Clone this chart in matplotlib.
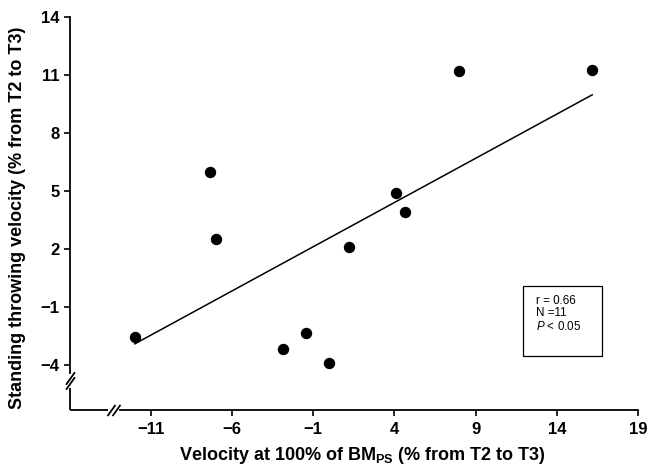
import numpy as np
import matplotlib
matplotlib.use("Agg")
import matplotlib.pyplot as plt
from matplotlib.patches import Rectangle

plt.rcParams["font.family"] = ["Liberation Sans", "DejaVu Sans"]
plt.rcParams["mathtext.fontset"] = "custom"
plt.rcParams["mathtext.rm"] = "Liberation Sans"
plt.rcParams["mathtext.it"] = "Liberation Sans:italic"
plt.rcParams["mathtext.bf"] = "Liberation Sans:bold"

# Change in velocity at 100% BM_PS vs change in standing throwing velocity
bm_ps_change = [-11.98, -7.35, -6.98, -2.83, -1.42, -0.03, 1.18, 4.10, 4.67, 7.97, 16.18]
throw_change = [-2.52, 6.01, 2.52, -3.16, -2.35, -3.90, 2.10, 4.93, 3.91, 11.24, 11.26]

x_ticks = [-11, -6, -1, 4, 9, 14, 19]
y_ticks = [-4, -1, 2, 5, 8, 11, 14]
stats_lines = ["r = 0.66", "N =11", "$\\it{P}$ < 0.05"]

x = np.array(bm_ps_change)
y = np.array(throw_change)
slope, intercept = np.polyfit(x, y, 1)
x_fit = np.array([x.min(), x.max()])

fig = plt.figure(figsize=(6.48, 4.69), dpi=100)
ax = fig.add_axes([0.1073, 0.1258, 0.8773, 0.8373])

ax.plot(x, y, "o", color="black", markersize=7.2, zorder=3)
ax.plot(x_fit, slope * x_fit + intercept, color="black", linewidth=1.1)

ax.set_xlim(-16, 19)
ax.set_ylim(-6.32, 14)
ax.set_xticks(x_ticks)
ax.set_yticks(y_ticks)

for side in ["top", "right"]:
    ax.spines[side].set_visible(False)
for side in ["left", "bottom"]:
    ax.spines[side].set_linewidth(1.3)

# axis breaks: gap in each spine with a pair of slashes
y_gap = (-5.18, -4.40)
x_gap = (-13.65, -12.90)
ax.spines["left"].set_bounds(y_gap[1], 14)
ax.spines["bottom"].set_bounds(x_gap[1], 19)
ax.plot([0, 0], [-6.32, y_gap[0]], color="black", linewidth=1.3,
        transform=ax.get_yaxis_transform(), clip_on=False, solid_capstyle="butt")
ax.plot([-16, x_gap[0]], [0, 0], color="black", linewidth=1.3,
        transform=ax.get_xaxis_transform(), clip_on=False, solid_capstyle="butt")

slash = [(-0.5, -0.7), (0.5, 0.7)]
ax.plot([0, 0], [-4.66, -4.92], linestyle="none", marker=slash, markersize=9,
        markeredgewidth=1.3, color="black",
        transform=ax.get_yaxis_transform(), clip_on=False)
ax.plot([-13.46, -13.12], [0, 0], linestyle="none", marker=slash, markersize=8,
        markeredgewidth=1.3, color="black",
        transform=ax.get_xaxis_transform(), clip_on=False)

ax.tick_params(axis="both", direction="out", length=4, width=1.2,
               labelsize=12, color="black")
ax.tick_params(axis="x", pad=4.5)
ax.tick_params(axis="y", pad=3)
for lbl in ax.get_xticklabels() + ax.get_yticklabels():
    lbl.set_fontweight("bold")

ax.set_xlabel("Velocity at 100% of BM$_{\\mathbf{PS}}$ (% from T2 to T3)",
              fontsize=13, fontweight="bold", va="center")
ax.xaxis.set_label_coords(0.515, -0.115)
ax.set_ylabel("Standing throwing velocity (% from T2 to T3)",
              fontsize=13, fontweight="bold", va="center")
ax.yaxis.set_label_coords(-0.091, 0.49)

# correlation summary box
ax.add_patch(Rectangle((0.797, 0.1375), 0.139, 0.1783, transform=ax.transAxes,
                       fill=False, edgecolor="black", linewidth=0.9, clip_on=False))
for text, ypos in zip(stats_lines, [0.2763, 0.2470, 0.2139]):
    ax.text(0.8206, ypos, text, transform=ax.transAxes, fontsize=8.4,
            va="center", ha="left")

fig.savefig("out.png", dpi=100)
plt.close()
